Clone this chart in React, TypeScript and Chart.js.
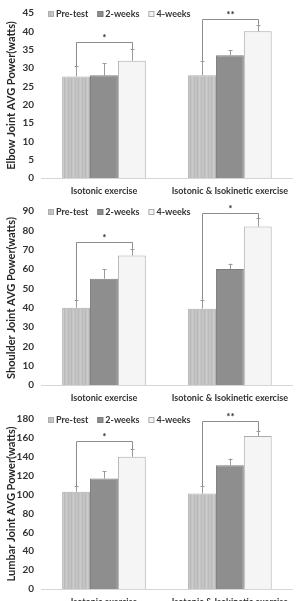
import { useEffect, useRef } from 'react';
import { Chart, registerables } from 'chart.js';

Chart.register(...registerables);

// Groups and series
const categories = ['Isotonic exercise', 'Isotonic & Isokinetic exercise'];
const seriesLabels = ['Pre-test', '2-weeks', '4-weeks'];

// Elbow joint average power (watts)
const elbowPre = [27.7, 28.0];
const elbow2w = [28.0, 33.5];
const elbow4w = [32.0, 40.0];
const elbowPreErr = [2.8, 4.0];
const elbow2wErr = [3.3, 1.4];
const elbow4wErr = [3.1, 1.8];
const elbowSigLevel = [37, 43.5];
const elbowSigMark = ['*', '**'];
const elbowTicks = [0, 5, 10, 15, 20, 25, 30, 35, 40, 45];

// Shoulder joint average power (watts)
const shoulderPre = [40.0, 39.5];
const shoulder2w = [55.0, 60.0];
const shoulder4w = [67.0, 82.0];
const shoulderPreErr = [4.0, 4.6];
const shoulder2wErr = [4.8, 2.8];
const shoulder4wErr = [3.5, 4.2];
const shoulderSigLevel = [74, 89];
const shoulderSigMark = ['*', '*'];
const shoulderTicks = [0, 10, 20, 30, 40, 50, 60, 70, 80, 90];

// Lumbar joint average power (watts)
const lumbarPre = [103, 101];
const lumbar2w = [117, 131];
const lumbar4w = [140, 162];
const lumbarPreErr = [6, 8];
const lumbar2wErr = [8, 7];
const lumbar4wErr = [8, 5];
const lumbarSigLevel = [157, 177.5];
const lumbarSigMark = ['*', '**'];
const lumbarTicks = [0, 20, 40, 60, 80, 100, 120, 140, 160, 180];

const FONT = 'Lato, "Liberation Sans", sans-serif';
const TEXT = '#333333';

type PanelCfg = {
  title: string;
  top: number;
  height: number;
  plotTop: number;
  plotBottom: number;
  ticks: number[];
  pre: number[];
  w2: number[];
  w4: number[];
  errs: number[][];
  sigLevel: number[];
  sigMark: string[];
};

const panels: PanelCfg[] = [
  {
    title: 'Elbow Joint AVG Power(watts)', top: 0, height: 200, plotTop: 10, plotBottom: 178,
    ticks: elbowTicks, pre: elbowPre, w2: elbow2w, w4: elbow4w,
    errs: [elbowPreErr, elbow2wErr, elbow4wErr], sigLevel: elbowSigLevel, sigMark: elbowSigMark,
  },
  {
    title: 'Shoulder Joint AVG Power(watts)', top: 198, height: 209, plotTop: 10, plotBottom: 187,
    ticks: shoulderTicks, pre: shoulderPre, w2: shoulder2w, w4: shoulder4w,
    errs: [shoulderPreErr, shoulder2wErr, shoulder4wErr], sigLevel: shoulderSigLevel, sigMark: shoulderSigMark,
  },
  {
    title: 'Lumbar Joint AVG Power(watts)', top: 406, height: 205, plotTop: 10, plotBottom: 183,
    ticks: lumbarTicks, pre: lumbarPre, w2: lumbar2w, w4: lumbar4w,
    errs: [lumbarPreErr, lumbar2wErr, lumbar4wErr], sigLevel: lumbarSigLevel, sigMark: lumbarSigMark,
  },
];

// Light grey fill with faint vertical stripes for the Pre-test bars
function stripePattern(ctx: CanvasRenderingContext2D): CanvasPattern | string {
  const c = document.createElement('canvas');
  c.width = 7;
  c.height = 4;
  const p = c.getContext('2d');
  if (!p) return '#c0c0c0';
  p.fillStyle = '#c4c4c4';
  p.fillRect(0, 0, 7, 4);
  p.fillStyle = '#b9b9b9';
  p.fillRect(1, 0, 1, 4);
  p.fillStyle = '#cbcbcb';
  p.fillRect(3, 0, 1, 4);
  p.fillStyle = '#bcbcbc';
  p.fillRect(5, 0, 1, 4);
  return ctx.createPattern(c, 'repeat') || '#c0c0c0';
}

// Error bars, significance brackets and the in-plot legend
const annotations = {
  id: 'sigMarks',
  afterDatasetsDraw(chart: any, _args: any, opts: any) {
    const { ctx, chartArea } = chart;
    const y = chart.scales.y;
    const errs: number[][] = opts.errs;
    ctx.save();
    ctx.strokeStyle = '#9a9a9a';
    ctx.lineWidth = 1;
    chart.data.datasets.forEach((ds: any, i: number) => {
      const meta = chart.getDatasetMeta(i);
      meta.data.forEach((el: any, j: number) => {
        const top = y.getPixelForValue(ds.data[j] + errs[i][j]);
        const x = Math.round(el.x) + 0.5;
        ctx.beginPath();
        ctx.moveTo(x, el.y);
        ctx.lineTo(x, top);
        ctx.moveTo(x - 2, Math.round(top) + 0.5);
        ctx.lineTo(x + 2, Math.round(top) + 0.5);
        ctx.stroke();
      });
    });

    // brackets between Pre-test and 4-weeks
    const m0 = chart.getDatasetMeta(0);
    const m2 = chart.getDatasetMeta(2);
    const d0 = chart.data.datasets[0].data;
    const d2 = chart.data.datasets[2].data;
    ctx.strokeStyle = '#8c8c8c';
    opts.sigLevel.forEach((lvl: number, j: number) => {
      const x1 = Math.round(m0.data[j].x) + 0.5;
      const x2 = Math.round(m2.data[j].x) + 0.5;
      const yl = Math.round(y.getPixelForValue(lvl)) + 0.5;
      const y1 = y.getPixelForValue(d0[j] + errs[0][j]);
      const y2 = y.getPixelForValue(d2[j] + errs[2][j]);
      ctx.beginPath();
      ctx.moveTo(x1, y1);
      ctx.lineTo(x1, yl);
      ctx.lineTo(x2, yl);
      ctx.lineTo(x2, y2);
      ctx.stroke();
      ctx.fillStyle = TEXT;
      ctx.font = `bold 10px ${FONT}`;
      ctx.textAlign = 'center';
      ctx.textBaseline = 'alphabetic';
      ctx.fillText(opts.sigMark[j], (x1 + x2) / 2, yl - 2);
    });

    // legend inside the plot area
    let lx = chartArea.left + 7;
    const ly = chartArea.top + 1;
    ctx.font = `bold 9px ${FONT}`;
    ctx.textAlign = 'left';
    ctx.textBaseline = 'middle';
    chart.data.datasets.forEach((ds: any) => {
      ctx.fillStyle = ds.backgroundColor;
      ctx.fillRect(lx, ly - 3, 6, 6);
      ctx.strokeStyle = ds.borderColor;
      ctx.strokeRect(lx + 0.5, ly - 2.5, 5, 5);
      ctx.fillStyle = TEXT;
      ctx.fillText(ds.label, lx + 8, ly + 0.5);
      lx += 8 + ctx.measureText(ds.label).width + 9;
    });
    ctx.restore();
  },
};

function Panel({ cfg }: { cfg: PanelCfg }) {
  const ref = useRef<HTMLCanvasElement>(null);
  useEffect(() => {
    const canvas = ref.current;
    if (!canvas) return;
    const ctx = canvas.getContext('2d');
    if (!ctx) return;
    const pattern = stripePattern(ctx);
    const yMax = cfg.ticks[cfg.ticks.length - 1];
    const step = cfg.ticks[1] - cfg.ticks[0];
    const common = { barPercentage: 1, categoryPercentage: 0.664, borderWidth: 1 };
    const chart = new Chart(canvas, {
      type: 'bar',
      data: {
        labels: categories,
        datasets: [
          { ...common, label: seriesLabels[0], data: cfg.pre, backgroundColor: pattern as any, borderColor: '#adadad' },
          { ...common, label: seriesLabels[1], data: cfg.w2, backgroundColor: '#8e8e8e', borderColor: '#7c7c7c' },
          { ...common, label: seriesLabels[2], data: cfg.w4, backgroundColor: '#f5f5f5', borderColor: '#ababab' },
        ],
      },
      options: {
        responsive: false,
        animation: false,
        layout: { padding: { top: cfg.plotTop, right: 0, bottom: 0, left: 1 } },
        plugins: {
          legend: { display: false },
          tooltip: { enabled: false },
          sigMarks: { errs: cfg.errs, sigLevel: cfg.sigLevel, sigMark: cfg.sigMark },
        } as any,
        scales: {
          x: {
            grid: { display: false, drawTicks: false },
            border: { display: true, color: '#d6d6d6' },
            ticks: { color: TEXT, font: { family: FONT, size: 9, weight: 'bold' }, padding: 8, maxRotation: 0 },
            afterFit: (s: any) => { s.height = cfg.height - cfg.plotBottom; },
          },
          y: {
            min: 0,
            max: yMax,
            grid: { display: false, drawTicks: false },
            border: { display: false },
            ticks: { stepSize: step, color: TEXT, font: { family: FONT, size: 10, weight: 'bold' }, padding: 7 },
            title: {
              display: true,
              text: cfg.title,
              color: '#262626',
              font: { family: FONT, size: 11, weight: 'bold' },
              padding: { top: 4, bottom: 0 },
            },
            afterFit: (s: any) => { s.width = 40; },
          },
        },
      },
      plugins: [annotations],
    });
    return () => chart.destroy();
  }, [cfg]);
  return (
    <canvas
      ref={ref}
      width={296}
      height={cfg.height}
      style={{ position: 'absolute', left: 0, top: cfg.top, display: 'block' }}
    />
  );
}

export default function App() {
  return (
    <div style={{ position: 'fixed', left: 0, top: 0, width: 296, height: 601, overflow: 'hidden', background: '#ffffff' }}>
      {panels.map((p) => (
        <Panel key={p.title} cfg={p} />
      ))}
    </div>
  );
}
